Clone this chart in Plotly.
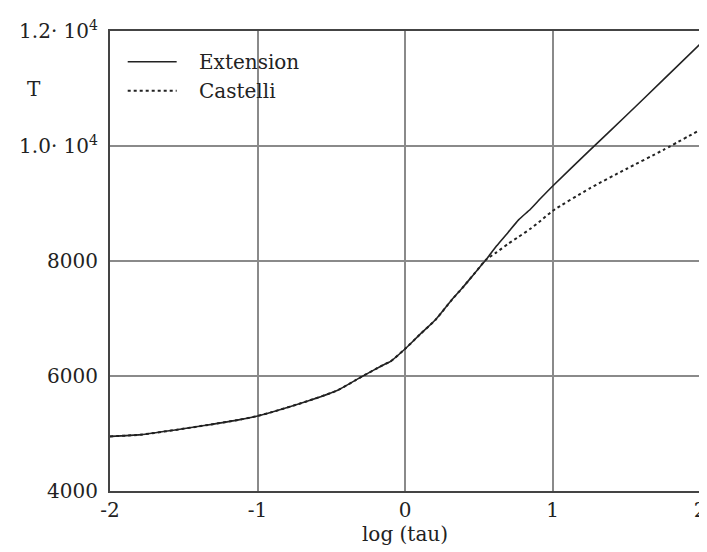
import plotly.graph_objects as go

# Data
log_tau = [-2.0, -1.79, -1.57, -1.35, -1.12, -1.0, -0.9, -0.68, -0.46, -0.34, -0.3,
           -0.2, -0.135, -0.1, 0.0, 0.1, 0.21, 0.32, 0.39, 0.47, 0.55, 0.62, 0.7,
           0.77, 0.85, 0.92, 1.0, 1.25, 1.5, 1.75, 2.0]
T_extension = [4950, 4980, 5057, 5143, 5241, 5305, 5374, 5547, 5748, 5920, 5979,
               6120, 6209, 6250, 6470, 6720, 6987, 7333, 7535, 7780, 8024, 8260, 8500,
               8716, 8900, 9090, 9300, 9920, 10530, 11150, 11770]
T_castelli = [4950, 4980, 5057, 5143, 5241, 5305, 5374, 5547, 5748, 5920, 5979,
              6120, 6209, 6250, 6470, 6720, 6987, 7333, 7535, 7780, 8024, 8150, 8300,
              8420, 8560, 8700, 8870, 9260, 9600, 9930, 10280]

x_ticks = [-2, -1, 0, 1, 2]
x_ticklabels = ["-2", "-1", "0", "1", "2"]
y_ticks = [4000, 6000, 8000, 10000, 12000]
y_ticklabels = ["4000", "6000", "8000", "1.0· 10<sup>4</sup>", "1.2· 10<sup>4</sup>"]
legend_names = ["Extension", "Castelli"]

FONT = "DejaVu Serif"

fig = go.Figure()
fig.add_trace(go.Scatter(x=log_tau, y=T_castelli, mode="lines", name=legend_names[1],
                         line=dict(color="#222", width=2, dash="dot",
                                   shape="spline", smoothing=0.6)))
fig.add_trace(go.Scatter(x=log_tau, y=T_extension, mode="lines", name=legend_names[0],
                         line=dict(color="#222", width=1.6, shape="spline", smoothing=0.6)))

axis_common = dict(showline=True, linecolor="#444", linewidth=2, mirror=True,
                   showgrid=True, gridcolor="#8a8a8a", gridwidth=1.5, zeroline=False,
                   ticks="", tickfont=dict(family=FONT, size=20, color="#222"))

fig.update_xaxes(range=[-2, 2], tickvals=x_ticks, ticktext=x_ticklabels,
                 title=dict(text="log (tau)", font=dict(family=FONT, size=20, color="#222"),
                            standoff=6),
                 **axis_common)
fig.update_yaxes(range=[4000, 12000], tickvals=y_ticks, ticktext=y_ticklabels,
                 ticklabelstandoff=6, **axis_common)

# Manual legend (no box), matching reference layout
legend_rows = [(0.933, "solid", 1.6), (0.870, "dot", 2)]
for (yp, dash, w), name in zip(legend_rows, legend_names):
    fig.add_shape(type="line", xref="paper", yref="paper", x0=0.030, x1=0.113,
                  y0=yp, y1=yp, line=dict(color="#222", width=w, dash=dash))
    fig.add_annotation(x=0.147, y=yp, xref="paper", yref="paper", text=name,
                       showarrow=False, xanchor="left", yanchor="middle",
                       font=dict(family=FONT, size=20, color="#222"))

# Y-axis label "T" placed horizontally near top-left
fig.add_annotation(x=-0.128, y=0.875, xref="paper", yref="paper", text="T",
                   showarrow=False, xanchor="center", yanchor="middle",
                   font=dict(family=FONT, size=20, color="#222"))

fig.update_layout(width=707, height=552, showlegend=False,
                  margin=dict(l=102, r=9, t=20, b=69),
                  paper_bgcolor="white", plot_bgcolor="white",
                  font=dict(family=FONT, color="#222"))

fig.write_html("out.html")
